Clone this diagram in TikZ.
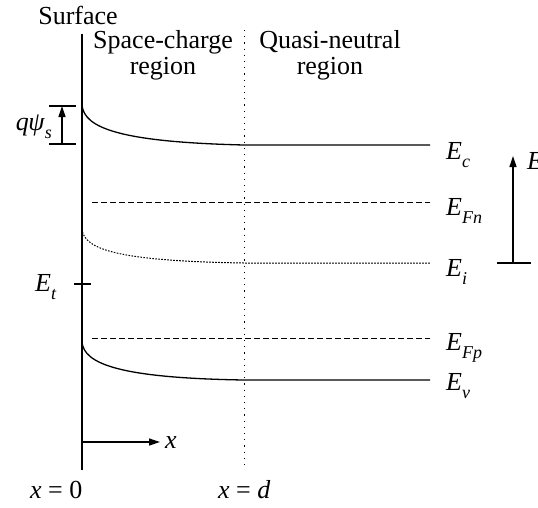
\documentclass[tikz,border=0pt]{standalone}
\usepackage{fontspec}
\setmainfont{Liberation Serif}
\usetikzlibrary{arrows.meta}
\newcommand\subsc[1]{\raisebox{-0.32em}{\fontsize{18}{18}\selectfont\itshape #1}}
\begin{document}
\begin{tikzpicture}[x=1pt,y=-1pt,
  font=\fontsize{26}{30}\selectfont,
  lw/.style={line width=1.3pt},
  band/.style={line width=1.3pt},
  fermi/.style={line width=1pt, dash pattern=on 6pt off 3pt},
  intr/.style={line width=1pt, dash pattern=on 1.6pt off 1.4pt},
  sep/.style={line width=1pt, dash pattern=on 1.2pt off 5pt},
  tip/.style={-{Triangle[length=11pt,width=7pt]}},
  lbl/.style={anchor=base west, inner sep=0pt},
  txt/.style={inner sep=0pt, align=center}]
\useasboundingbox (0,0) rectangle (538,507);
% axis
\coordinate (axtop) at (82,34);
\coordinate (axbot) at (82,470);
\draw[lw] (axtop) -- (axbot);
\node[txt] (surf) at (78,15) {Surface};
% separator
\coordinate (septop) at (244,30);
\coordinate (sepbot) at (244,470);
\draw[sep] (septop) -- (sepbot);
\node[txt] (scr) at (163,55) {Space-charge\\[-4pt]region};
\node[txt] (qnr) at (330,55) {Quasi-neutral\\[-4pt]region};
% Ec
\coordinate (ec0) at (82,105);
\coordinate (ecd) at (244,145);
\coordinate (ec1) at (430,145);
\draw[band] (ec0) .. controls (84,128) and (120,142) .. (ecd) -- (ec1);
\node[lbl] (Ec) at (446,159) {\textit{E}\subsc{c}};
% q psi_s bracket
\coordinate (bt0) at (49,106);
\coordinate (bt1) at (76,106);
\coordinate (bb0) at (49,144);
\coordinate (bb1) at (76,144);
\coordinate (qa0) at (62,144);
\coordinate (qa1) at (62,106);
\draw[lw] (bt0) -- (bt1);
\draw[lw] (bb0) -- (bb1);
\draw[lw,tip] (qa0) -- (qa1);
\node[anchor=base east, inner sep=0pt] (qpsi) at (52,130) {\textit{q\kern-0.5pt ψ}\subsc{s}};
% EFn
\coordinate (fn0) at (92,202);
\coordinate (fn1) at (430,202);
\draw[fermi] (fn0) -- (fn1);
\node[lbl] (EFn) at (446,215) {\textit{E}\subsc{Fn}};
% Ei
\coordinate (ei0) at (82,229);
\coordinate (eid) at (244,263);
\coordinate (ei1) at (430,263);
\draw[intr] (ei0) .. controls (84,250) and (120,261) .. (eid) -- (ei1);
\node[lbl] (Ei) at (446,276) {\textit{E}\subsc{i}};
% E arrow
\coordinate (eb0) at (497,263);
\coordinate (eb1) at (531,263);
\coordinate (ea0) at (513,263);
\coordinate (ea1) at (513,156);
\draw[lw] (eb0) -- (eb1);
\draw[lw,tip] (ea0) -- (ea1);
\node[lbl] (E) at (527,169) {\textit{E}};
% Et
\coordinate (et0) at (74,284);
\coordinate (et1) at (91,284);
\draw[lw] (et0) -- (et1);
\node[lbl] (Et) at (35,291) {\textit{E}\subsc{t}};
% EFp
\coordinate (fp0) at (92,338);
\coordinate (fp1) at (430,338);
\draw[fermi] (fp0) -- (fp1);
\node[lbl] (EFp) at (446,350) {\textit{E}\subsc{Fp}};
% Ev
\coordinate (ev0) at (82,342);
\coordinate (evd) at (244,380);
\coordinate (ev1) at (430,380);
\draw[band] (ev0) .. controls (84,364) and (120,378) .. (evd) -- (ev1);
\node[lbl] (Ev) at (446,390) {\textit{E}\subsc{v}};
% x arrow
\coordinate (xa0) at (82,442);
\coordinate (xa1) at (160,442);
\draw[lw,tip] (xa0) -- (xa1);
\node[lbl] (xl) at (165,448) {\textit{x}};
\node[lbl] (x0) at (30,498) {\textit{x} = 0};
\node[lbl] (xd) at (218,498) {\textit{x} = \textit{d}};
\end{tikzpicture}
\end{document}
